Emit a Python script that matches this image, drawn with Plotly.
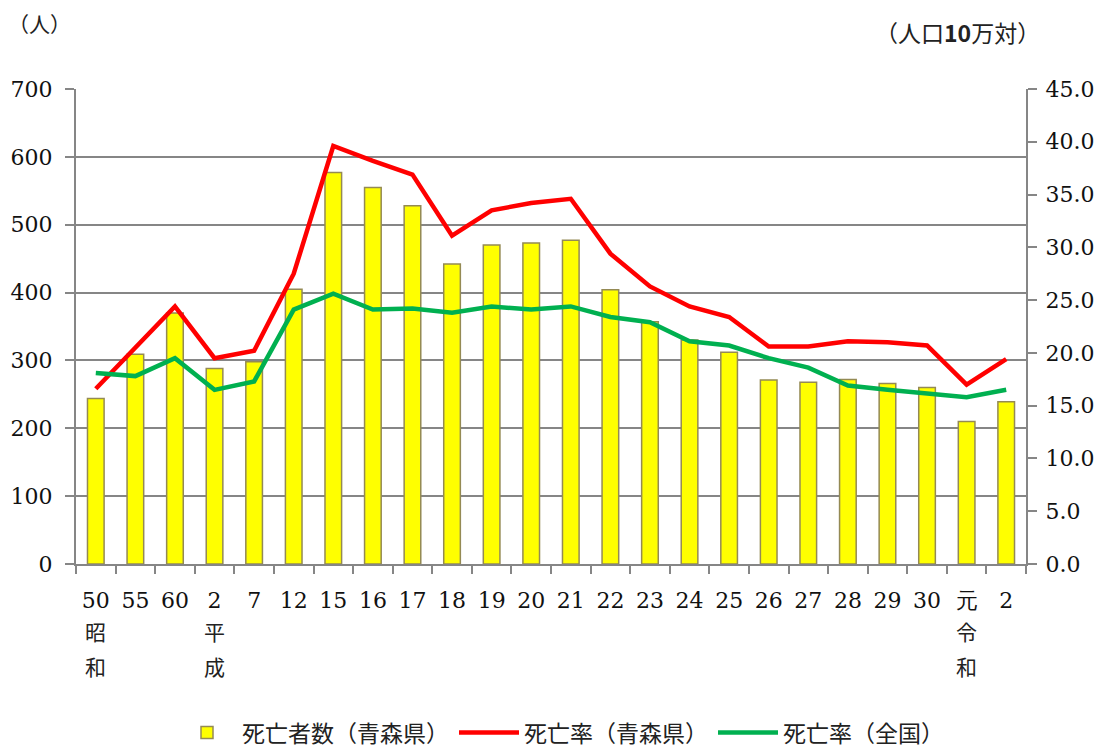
import plotly.graph_objects as go

tick_labels = ["50", "55", "60", "2", "7", "12", "15", "16", "17", "18", "19", "20",
               "21", "22", "23", "24", "25", "26", "27", "28", "29", "30", "元", "2"]
era_labels = {0: "昭和", 3: "平成", 22: "令和"}

deaths_aomori = [244, 309, 370, 288, 298, 405, 577, 555, 528, 442, 470, 473,
                 477, 404, 357, 330, 312, 271, 268, 272, 266, 260, 210, 239]
rate_aomori = [16.6, 20.5, 24.4, 19.5, 20.2, 27.5, 39.6, 38.2, 36.9, 31.1, 33.5, 34.2,
               34.6, 29.4, 26.3, 24.4, 23.4, 20.6, 20.6, 21.1, 21.0, 20.7, 17.0, 19.4]
rate_japan = [18.1, 17.8, 19.5, 16.5, 17.3, 24.1, 25.6, 24.1, 24.2, 23.8, 24.4, 24.1,
              24.4, 23.4, 22.9, 21.1, 20.7, 19.5, 18.6, 16.9, 16.5, 16.2, 15.8, 16.5]

x = list(range(len(tick_labels)))
serif = "DejaVu Serif"
jp = "Noto Sans CJK JP"
gray = "#868686"
txt = "#222222"

fig = go.Figure()
fig.add_trace(go.Bar(x=x, y=deaths_aomori, name="死亡者数（青森県）",
                     marker=dict(color="#FFFF00", line=dict(color="#948A54", width=1.5)),
                     width=0.42, yaxis="y"))
fig.add_trace(go.Scatter(x=x, y=rate_aomori, name="死亡率（青森県）", mode="lines",
                         line=dict(color="#FF0000", width=4.5), yaxis="y2"))
fig.add_trace(go.Scatter(x=x, y=rate_japan, name="死亡率（全国）", mode="lines",
                         line=dict(color="#00B050", width=4.5), yaxis="y2"))

annotations = []
annotations.append(dict(text="（人）", xref="paper", yref="paper", x=-0.074, y=1.14,
                        xanchor="left", yanchor="middle", showarrow=False,
                        font=dict(family=jp, size=21, color=txt)))
annotations.append(dict(text="（人口<b>10</b>万対）", xref="paper", yref="paper", x=1.017, y=1.12,
                        xanchor="right", yanchor="middle", showarrow=False,
                        font=dict(family=jp, size=23, color=txt)))
for idx, lab in era_labels.items():
    for k, ch in enumerate(lab):
        annotations.append(dict(text=ch, xref="x", yref="paper", x=idx, y=-0.141 - 0.074 * k,
                                xanchor="center", yanchor="middle", showarrow=False,
                                font=dict(family=jp, size=21, color=txt)))

fig.update_layout(
    width=1102, height=746,
    margin=dict(l=68, r=84, t=81, b=190, autoexpand=False),
    plot_bgcolor="white", paper_bgcolor="white",
    showlegend=True,
    legend=dict(orientation="h", x=0.51, xanchor="center", y=-0.355, yanchor="middle",
                font=dict(family=jp, size=23, color=txt), itemwidth=60,
                traceorder="normal"),
    xaxis=dict(tickmode="array", tickvals=x, ticktext=tick_labels, range=[-0.5, 23.5],
               showline=True, linecolor=gray, linewidth=2, ticks="",
               ticklabelstandoff=16,
               tickfont=dict(family=serif, size=22, color="#111"),
               minor=dict(tickmode="array", tickvals=[i - 0.5 for i in range(25)],
                          ticks="outside", ticklen=8, tickcolor=gray, tickwidth=1.5,
                          showgrid=False),
               showgrid=False, zeroline=False),
    yaxis=dict(range=[0, 700], dtick=100, showgrid=True, gridcolor=gray, gridwidth=2,
               showline=True, linecolor=gray, linewidth=2, ticks="outside", ticklen=9,
               tickcolor=gray, tickwidth=1.5, ticklabelstandoff=8,
               tickfont=dict(family=serif, size=22, color="#111"), zeroline=False),
    yaxis2=dict(range=[0, 45], dtick=5, overlaying="y", side="right", showgrid=False,
                showline=True, linecolor=gray, linewidth=2, ticks="outside", ticklen=9,
                tickcolor=gray, tickwidth=1.5, tickformat=".1f", ticklabelstandoff=4,
                tickfont=dict(family=serif, size=22, color="#111"), zeroline=False),
    annotations=annotations,
)

fig.write_html("out.html")
